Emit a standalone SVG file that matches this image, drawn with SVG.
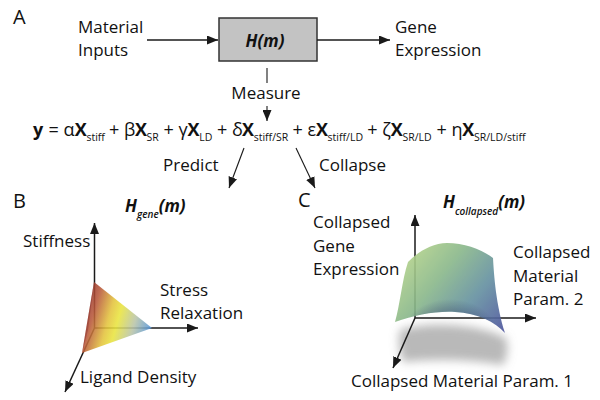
<svg xmlns="http://www.w3.org/2000/svg" width="600" height="400" viewBox="0 0 600 400">
<defs>
<style>
text{font-family:"Open Sans","Liberation Sans",sans-serif;fill:#111;}
.lbl{font-size:17px;}
.panel{font-size:20px;}
.bi{font-weight:bold;font-style:italic;font-size:17px;}
.bis{font-weight:600;font-style:italic;font-size:10px;}
.eq{font-size:18px;}
.b{font-weight:bold;}
.sub{font-size:10.5px;}
.ln{stroke:#1a1a1a;stroke-width:1.5;fill:none;}
.thin{stroke:#1a1a1a;stroke-width:1.1;fill:none;}
</style>
<marker id="ah" markerUnits="userSpaceOnUse" markerWidth="11" markerHeight="9" refX="11" refY="4.5" orient="auto" viewBox="0 0 11 9">
<path d="M0,0 L11,4.5 L0,9 Z" fill="#1a1a1a"/>
</marker>
<linearGradient id="triG" gradientUnits="userSpaceOnUse" x1="82" y1="300" x2="152" y2="320">
<stop offset="0" stop-color="#862828"/>
<stop offset="0.2" stop-color="#b8573a"/>
<stop offset="0.42" stop-color="#e3c23c"/>
<stop offset="0.55" stop-color="#e9e43e"/>
<stop offset="0.78" stop-color="#b9c4a8"/>
<stop offset="1" stop-color="#5e9ad6"/>
</linearGradient>
<linearGradient id="surfG" gradientUnits="userSpaceOnUse" x1="400" y1="250" x2="505" y2="335">
<stop offset="0" stop-color="#bcd88a"/>
<stop offset="0.35" stop-color="#8ab88a"/>
<stop offset="0.65" stop-color="#6490a0"/>
<stop offset="1" stop-color="#4a4f9c"/>
</linearGradient>
<radialGradient id="surfShade" gradientUnits="userSpaceOnUse" cx="450" cy="335" r="60" gradientTransform="translate(450 335) scale(1 0.75) translate(-450 -335)">
<stop offset="0.35" stop-color="#1e2a50" stop-opacity="0"/>
<stop offset="0.55" stop-color="#1e2a50" stop-opacity="0.3"/>
<stop offset="0.8" stop-color="#1e2a50" stop-opacity="0"/>
</radialGradient>
<filter id="blur" x="-30%" y="-40%" width="160%" height="180%">
<feGaussianBlur stdDeviation="5"/>
</filter>
<clipPath id="surfClip">
<path d="M408,262 C418,252 432,243 447,243 C465,243 483,250 493,258 C494,275 496,305 505,333 C495,322 478,313 455,312 C435,311 415,315 395,322 C400,305 402,280 408,262 Z"/>
</clipPath>
</defs>
<rect width="600" height="400" fill="#fff"/>

<g id="panel-labels">
<text class="panel" x="13" y="24">A</text>
<text class="panel" x="13" y="208">B</text>
<text class="panel" x="298" y="207">C</text>
</g>

<g id="material-inputs">
<text class="lbl" x="78" y="33">Material</text>
<text class="lbl" x="78" y="56">Inputs</text>
</g>

<g id="hm-box">
<rect x="219" y="18" width="98" height="43" fill="#c3c3c3" stroke="#333" stroke-width="1.5"/>
<text class="bi" x="265" y="47" text-anchor="middle">H(m)</text>
</g>

<g id="gene-expression">
<text class="lbl" x="395" y="33">Gene</text>
<text class="lbl" x="395" y="56">Expression</text>
</g>

<g id="measure">
<text class="lbl" x="266" y="99" text-anchor="middle">Measure</text>
</g>

<g id="equation">
<text class="eq">
<tspan x="33" y="135.5" class="b">y</tspan>
<tspan x="48.5" y="135.5">=</tspan>
<tspan x="63.5" y="135.5">α</tspan>
<tspan x="74.7" y="135.5" class="b">X</tspan>
<tspan x="86.4" y="141" class="sub">stiff</tspan>
<tspan x="109.1" y="135.5">+</tspan>
<tspan x="124.1" y="135.5">β</tspan>
<tspan x="134.9" y="135.5" class="b">X</tspan>
<tspan x="146.6" y="141" class="sub">SR</tspan>
<tspan x="163.5" y="135.5">+</tspan>
<tspan x="178.5" y="135.5">γ</tspan>
<tspan x="187.5" y="135.5" class="b">X</tspan>
<tspan x="199.2" y="141" class="sub">LD</tspan>
<tspan x="217.1" y="135.5">+</tspan>
<tspan x="232.1" y="135.5">δ</tspan>
<tspan x="242" y="135.5" class="b">X</tspan>
<tspan x="253.7" y="141" class="sub">stiff/SR</tspan>
<tspan x="292.4" y="135.5">+</tspan>
<tspan x="307.4" y="135.5">ε</tspan>
<tspan x="315.9" y="135.5" class="b">X</tspan>
<tspan x="327.6" y="141" class="sub">stiff/LD</tspan>
<tspan x="367.3" y="135.5">+</tspan>
<tspan x="382.3" y="135.5">ζ</tspan>
<tspan x="390.8" y="135.5" class="b">X</tspan>
<tspan x="402.5" y="141" class="sub">SR/LD</tspan>
<tspan x="436.5" y="135.5">+</tspan>
<tspan x="451.5" y="135.5">η</tspan>
<tspan x="462.3" y="135.5" class="b">X</tspan>
<tspan x="474" y="141" class="sub">SR/LD/stiff</tspan>
</text>
</g>

<g id="predict">
<text class="lbl" x="163" y="171">Predict</text>
</g>
<g id="collapse">
<text class="lbl" x="319" y="171">Collapse</text>
</g>

<g id="connectors">
<line class="ln" x1="147" y1="40" x2="218" y2="40" marker-end="url(#ah)"/>
<line class="ln" x1="317" y1="40" x2="390" y2="40" marker-end="url(#ah)"/>
<line class="thin" x1="267" y1="68" x2="267" y2="83"/>
<line class="thin" x1="267" y1="106" x2="267" y2="121" marker-end="url(#ah)"/>
<line class="thin" x1="244" y1="148" x2="229" y2="188" marker-end="url(#ah)"/>
<line class="thin" x1="296" y1="148" x2="315" y2="188" marker-end="url(#ah)"/>
</g>

<g id="panel-b">
<text x="125" y="212"><tspan class="bi">H</tspan><tspan class="bis" dy="6">gene</tspan><tspan class="bi" dy="-6">(m)</tspan></text>
<line class="ln" x1="94.5" y1="328" x2="94.5" y2="223" marker-end="url(#ah)"/>
<line class="ln" x1="94.5" y1="328" x2="198" y2="328" marker-end="url(#ah)"/>
<line class="ln" x1="94.5" y1="328" x2="65" y2="392" marker-end="url(#ah)"/>
<path d="M94,282 L152,328 L82,353 Z" fill="url(#triG)" fill-opacity="0.88"/>
<path d="M94,282 L88,330 L82,353 Z" fill="#7a2222" fill-opacity="0.35"/>
<text class="lbl" x="23" y="247">Stiffness</text>
<text class="lbl" x="160" y="296">Stress</text>
<text class="lbl" x="160" y="319">Relaxation</text>
<text class="lbl" x="80" y="383">Ligand Density</text>
</g>

<g id="panel-c">
<text x="443" y="208"><tspan class="bi">H</tspan><tspan class="bis" dy="7">collapsed</tspan><tspan class="bi" dy="-7">(m)</tspan></text>
<path d="M400,330 C425,322 475,322 506,338 C509,348 507,358 503,365 C470,359 432,359 403,362 C399,352 398,340 400,330 Z" fill="#8a8a8a" fill-opacity="0.6" filter="url(#blur)"/>
<line class="ln" x1="415" y1="318" x2="415" y2="215" marker-end="url(#ah)"/>
<line class="ln" x1="415" y1="318" x2="536" y2="318" marker-end="url(#ah)"/>
<line class="ln" x1="415" y1="318" x2="393" y2="368" marker-end="url(#ah)"/>
<g opacity="0.9">
<path d="M408,262 C418,252 432,243 447,243 C465,243 483,250 493,258 C494,275 496,305 505,333 C495,322 478,313 455,312 C435,311 415,315 395,322 C400,305 402,280 408,262 Z" fill="url(#surfG)"/>
<rect x="390" y="240" width="120" height="100" fill="url(#surfShade)" clip-path="url(#surfClip)"/>
</g>
<text class="lbl" x="313" y="228">Collapsed</text>
<text class="lbl" x="313" y="252">Gene</text>
<text class="lbl" x="313" y="275">Expression</text>
<text class="lbl" x="513" y="258">Collapsed</text>
<text class="lbl" x="513" y="282">Material</text>
<text class="lbl" x="513" y="305">Param. 2</text>
<text class="lbl" x="351" y="387">Collapsed Material Param. 1</text>
</g>
</svg>
